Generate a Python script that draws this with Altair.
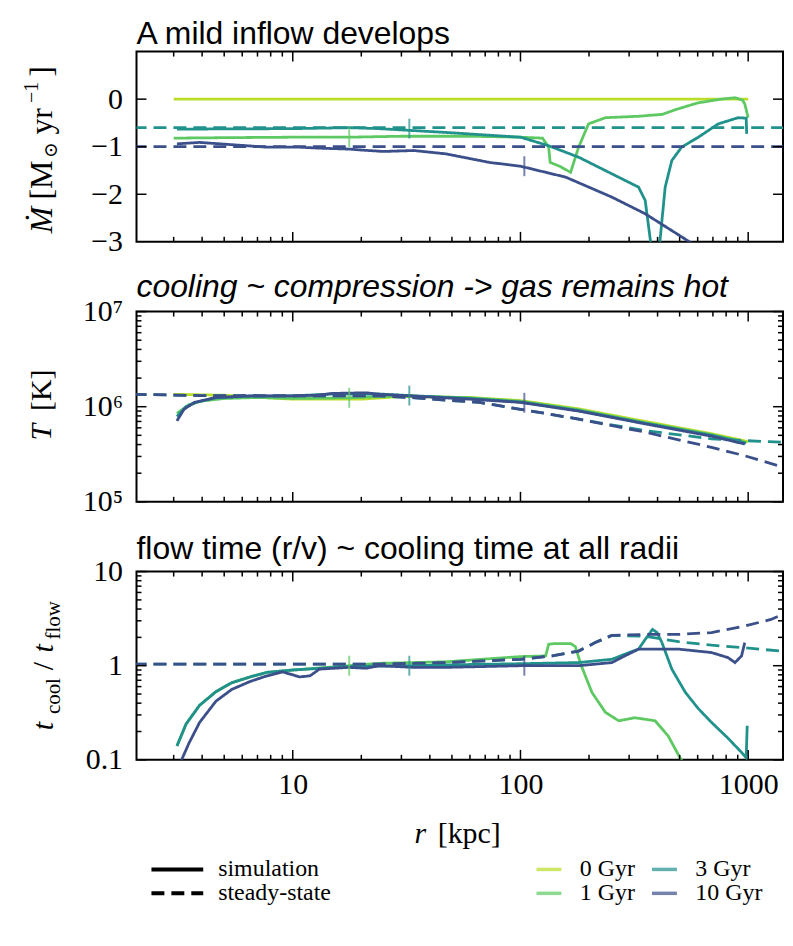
import altair as alt
import pandas as pd

SERIF = "Liberation Serif, DejaVu Serif, serif"
SANS = "Liberation Sans, Arial, sans-serif"

SERIES = ["0 Gyr", "1 Gyr", "3 Gyr", "10 Gyr"]
SERIES_COLORS = ["#bade28", "#5ec962", "#21918c", "#3b4f8a"]
KINDS = ["simulation", "steady-state"]

# ---------------- panel 1: Mdot ----------------
MD_R_0 = [3, 1000]
MD_0 = [0.0, 0.0]
MD_R_1 = [3, 5, 10, 17.7, 30, 60, 100, 125, 133, 135, 150, 166, 180, 199, 236, 330, 420, 480, 600, 760, 875, 944, 966, 1000]
MD_1 = [-0.82, -0.81, -0.80, -0.80, -0.78, -0.78, -0.80, -0.82, -1.01, -1.33, -1.42, -1.54, -1.01, -0.52, -0.39, -0.36, -0.32, -0.22, -0.08, 0.0, 0.03, -0.02, -0.10, -0.39]
MD_R_3 = [3.1, 10, 17.7, 24, 47, 100, 133, 180, 252, 330, 353, 372, 392, 410, 432, 462, 510, 604, 739, 904, 980, 985]
MD_3 = [-0.63, -0.62, -0.60, -0.62, -0.70, -0.80, -0.98, -1.22, -1.57, -1.85, -2.13, -2.97, -6.0, -2.97, -1.85, -1.29, -1.01, -0.80, -0.52, -0.39, -0.40, -0.73]
MD_R_10 = [3.1, 3.9, 5.5, 7.7, 10.7, 13, 17.7, 20, 25, 34, 47, 73, 100, 158, 252, 353, 528, 1000]
MD_10 = [-0.94, -0.91, -0.96, -1.01, -1.01, -1.03, -1.05, -1.07, -1.10, -1.08, -1.15, -1.33, -1.41, -1.64, -2.06, -2.41, -2.94, -3.8]
MD_SS_R = [2, 1500]
MD_SS_3 = [-0.6, -0.6]
MD_SS_10 = [-1.0, -1.0]

# ---------------- panel 2: T ----------------
T_R_0 = [3, 5, 10, 20, 30, 60, 100, 180, 353, 690, 1000]
T_0 = [1.35e6, 1.32e6, 1.20e6, 1.20e6, 1.28e6, 1.25e6, 1.16e6, 9.5e5, 7.0e5, 5.2e5, 4.3e5]
T_R_1 = [3.1, 3.5, 4.0, 5, 7, 10, 17.7, 30, 60, 100, 180, 353, 690, 980]
T_1 = [8.5e5, 1.05e6, 1.15e6, 1.22e6, 1.25e6, 1.22e6, 1.24e6, 1.30e6, 1.24e6, 1.14e6, 9.3e5, 6.8e5, 5.1e5, 4.2e5]
T_R_3 = [3.1, 3.4, 3.8, 4.6, 6.5, 10, 15, 24, 32.5, 60, 100, 180, 353, 690, 980]
T_3 = [7.9e5, 1.0e6, 1.12e6, 1.24e6, 1.29e6, 1.30e6, 1.36e6, 1.36e6, 1.31e6, 1.22e6, 1.12e6, 9.1e5, 6.7e5, 5.0e5, 4.15e5]
T_R_10 = [3.1, 3.33, 3.7, 4.6, 6.5, 10, 12.7, 15, 21, 24, 32.5, 60, 100, 180, 353, 690, 966]
T_10 = [7.1e5, 9.4e5, 1.11e6, 1.25e6, 1.30e6, 1.30e6, 1.32e6, 1.38e6, 1.40e6, 1.35e6, 1.30e6, 1.20e6, 1.11e6, 9.0e5, 6.6e5, 4.9e5, 4.05e5]
T_SS_R_3 = [2, 3.9, 10, 24, 32.5, 66, 100, 180, 353, 690, 966, 1530]
T_SS_3 = [1.35e6, 1.31e6, 1.30e6, 1.30e6, 1.25e6, 1.11e6, 9.4e5, 7.4e5, 5.6e5, 4.6e5, 4.4e5, 4.2e5]
T_SS_R_10 = [2, 3.9, 10, 24, 32.5, 66, 100, 180, 353, 690, 966, 1530]
T_SS_10 = [1.35e6, 1.31e6, 1.30e6, 1.30e6, 1.25e6, 1.11e6, 9.4e5, 7.4e5, 5.4e5, 3.74e5, 3.05e5, 2.2e5]

# ---------------- panel 3: t_cool / t_flow ----------------
Q_R_1 = [3.1, 3.4, 3.9, 4.6, 5.4, 6.5, 7.7, 10, 17.7, 24, 47, 100, 129, 133, 142, 166, 174, 185, 206, 236, 270, 318, 390, 445, 500, 560]
Q_1 = [0.14, 0.24, 0.38, 0.53, 0.66, 0.76, 0.85, 0.90, 1.0, 1.06, 1.10, 1.25, 1.27, 1.69, 1.72, 1.72, 1.60, 1.0, 0.52, 0.32, 0.26, 0.28, 0.26, 0.18, 0.107, 0.07]
Q_R_3 = [3.1, 3.4, 3.9, 4.6, 5.4, 6.5, 7.7, 10, 17.7, 32.5, 60, 100, 180, 252, 300, 330, 353, 380, 398, 418, 462, 530, 604, 690, 815, 935, 980, 990]
Q_3 = [0.14, 0.24, 0.38, 0.53, 0.66, 0.76, 0.85, 0.90, 0.98, 1.0, 1.03, 1.05, 1.08, 1.17, 1.38, 1.50, 1.90, 2.43, 2.25, 1.76, 0.92, 0.52, 0.35, 0.25, 0.17, 0.12, 0.105, 0.23]
Q_R_10 = [3.1, 3.25, 3.5, 3.9, 4.6, 5.4, 6.5, 7.7, 9.0, 10, 10.7, 11.9, 13.1, 17.7, 21, 24, 34, 47, 100, 180, 252, 287, 330, 495, 690, 815, 875, 935, 966]
Q_10 = [0.06, 0.10, 0.15, 0.25, 0.42, 0.56, 0.68, 0.78, 0.86, 0.80, 0.76, 0.78, 0.92, 0.96, 0.94, 1.0, 0.96, 0.96, 1.0, 1.0, 1.08, 1.27, 1.50, 1.50, 1.38, 1.22, 1.08, 1.27, 1.76]
Q_SS_R_3 = [2, 24, 47, 100, 138, 180, 213, 252, 353, 495, 690, 966, 1530]
Q_SS_3 = [1.04, 1.04, 1.08, 1.17, 1.27, 1.43, 1.76, 2.10, 2.05, 1.80, 1.65, 1.55, 1.40]
Q_SS_R_10 = [2, 24, 47, 100, 138, 180, 213, 252, 353, 495, 690, 966, 1260, 1530]
Q_SS_10 = [1.04, 1.04, 1.08, 1.17, 1.27, 1.43, 1.76, 2.10, 2.15, 2.15, 2.25, 2.64, 3.10, 3.80]

# markers on the simulation curves
MARK_SERIES = ["1 Gyr", "3 Gyr", "10 Gyr"]
MARK_R = [17.7, 32.5, 104]
MARK_MD = [-0.80, -0.62, -1.41]
MARK_T = [1.24e6, 1.31e6, 1.10e6]
MARK_Q = [1.0, 1.0, 1.0]

# axis ticks
X_MAJOR = [10, 100, 1000]
X_MINOR = [3, 4, 5, 6, 7, 8, 9, 20, 30, 40, 50, 60, 70, 80, 90, 200, 300, 400, 500, 600, 700, 800, 900]
MD_TICKS = [0, -1, -2, -3]
T_MAJOR = [1e5, 1e6, 1e7]
T_MINOR = [2e5, 3e5, 4e5, 5e5, 6e5, 7e5, 8e5, 9e5, 2e6, 3e6, 4e6, 5e6, 6e6, 7e6, 8e6, 9e6]
Q_MAJOR = [0.1, 1, 10]
Q_MINOR = [0.2, 0.3, 0.4, 0.5, 0.6, 0.7, 0.8, 0.9, 2, 3, 4, 5, 6, 7, 8, 9]

TITLES = ["A mild inflow develops",
          "cooling ~ compression -> gas remains hot",
          "flow time (r/v) ~ cooling time at all radii"]

W = 649
H = [191, 191, 189]


def frame(r, v, series, kind):
    return pd.DataFrame({"r": r, "v": v, "series": series, "kind": kind})


COLOR_SCALE = alt.Scale(domain=SERIES, range=SERIES_COLORS)
DASH_SCALE = alt.Scale(domain=KINDS, range=[[1, 0], [13, 7]])
X_SCALE = alt.Scale(type="log", domain=[2.06, 1422], nice=False)

COLOR_LEGEND = alt.Legend(title=None, orient="none", legendX=402, legendY=809, columns=2,
                          columnPadding=9, symbolType="M-2,0H2", symbolSize=156,
                          symbolStrokeWidth=3.5, labelFont=SERIF, labelFontSize=24,
                          labelColor="black", labelOffset=19, rowPadding=-2)
DASH_LEGEND = alt.Legend(title=None, orient="none", legendX=29, legendY=809,
                         symbolType="M-4,0H4", symbolSize=169, symbolStrokeWidth=4,
                         symbolStrokeColor="black", labelFont=SERIF, labelFontSize=24,
                         labelColor="black", labelOffset=29, rowPadding=-2)


def yaxis(values, expr=None):
    kw = dict(values=values, ticks=False, tickSize=0, domain=False, grid=False,
              labelFont=SERIF, labelFontSize=30, labelColor="black", labelPadding=14,
              labelFlush=False, labelOverlap=False, title=None)
    if expr:
        kw["labelExpr"] = expr
    return alt.Axis(**kw)


X_AXIS_BOTTOM = alt.Axis(values=X_MAJOR, format="d", ticks=False, tickSize=0, domain=False,
                         grid=False, labelFont=SERIF, labelFontSize=30, labelColor="black",
                         labelPadding=10, labelFlush=False, labelOverlap=False, title=None)


def text(t, x, y, size=30, style="normal", angle=270, font=SERIF, align="center",
         baseline="middle"):
    return alt.Chart(pd.DataFrame({"t": [t]})).mark_text(
        font=font, fontSize=size, fontStyle=style, angle=angle, align=align,
        baseline=baseline, color="black").encode(text="t:N", x=alt.value(x), y=alt.value(y))


def panel(idx, curves, marks, yscale, yax, ymajor, yminor, xax, labels, title_style, title_offset):
    h = H[idx]
    X = lambda: alt.X("r:Q", scale=X_SCALE, axis=xax)
    Y = lambda: alt.Y("v:Q", scale=yscale, axis=yax)
    layers = []
    df_all = pd.concat(curves, ignore_index=True)
    for s in SERIES:
        sub = df_all[df_all["series"] == s]
        if len(sub) == 0:
            continue
        layers.append(alt.Chart(sub).mark_line(clip=True, strokeWidth=2.8).encode(
            x=X(), y=Y(),
            color=alt.Color("series:N", scale=COLOR_SCALE, legend=COLOR_LEGEND),
            strokeDash=alt.StrokeDash("kind:N", scale=DASH_SCALE, legend=DASH_LEGEND),
        ))
    layers.append(alt.Chart(marks).mark_tick(orient="vertical", size=20, thickness=2).encode(
        x=X(), y=Y(), color=alt.Color("series:N", scale=COLOR_SCALE, legend=COLOR_LEGEND)))
    # frame ticks (inward)
    xmaj = pd.DataFrame({"r": X_MAJOR})
    xmin = pd.DataFrame({"r": X_MINOR})
    for d, ln in ((xmaj, 10), (xmin, 5)):
        base = alt.Chart(d).mark_rule(color="black", strokeWidth=1.5)
        layers.append(base.encode(x=X(), y=alt.value(0), y2=alt.value(ln)))
        layers.append(base.encode(x=X(), y=alt.value(h), y2=alt.value(h - ln)))
    for vals, ln in ((ymajor, 10), (yminor, 5)):
        if not vals:
            continue
        base = alt.Chart(pd.DataFrame({"v": vals})).mark_rule(color="black", strokeWidth=1.5)
        layers.append(base.encode(y=Y(), x=alt.value(0), x2=alt.value(ln)))
        layers.append(base.encode(y=Y(), x=alt.value(W), x2=alt.value(W - ln)))
    layers.extend(labels)
    layers.append(text(TITLES[idx], 0, -title_offset, size=32, style=title_style, angle=0,
                       font=SANS, align="left", baseline="alphabetic"))
    return alt.layer(*layers).properties(width=W, height=h)


# panel 1
c1 = [frame(MD_SS_R, MD_SS_3, "3 Gyr", "steady-state"),
      frame(MD_SS_R, MD_SS_10, "10 Gyr", "steady-state"),
      frame(MD_R_0, MD_0, "0 Gyr", "simulation"),
      frame(MD_R_1, MD_1, "1 Gyr", "simulation"),
      frame(MD_R_3, MD_3, "3 Gyr", "simulation"),
      frame(MD_R_10, MD_10, "10 Gyr", "simulation")]
m1 = pd.DataFrame({"r": MARK_R, "v": MARK_MD, "series": MARK_SERIES})
ox, oy = 136, 50
lab1 = [text("Ṁ", 41 - ox, 219 - oy, size=32, style="italic"),
        text("[M", 41 - ox, 179 - oy, size=32),
        text("⊙", 50 - ox, 149 - oy, size=19),
        text("yr", 41 - ox, 120 - oy, size=32),
        text("−1", 31 - ox, 91 - oy, size=20),
        text("]", 41 - ox, 70 - oy, size=32)]
p1 = panel(0, c1, m1, alt.Scale(domain=[-3, 1], nice=False, zero=False),
           yaxis(MD_TICKS), [0, -1, -2], [], None, lab1, "normal", 8)

# panel 2
c2 = [frame(T_SS_R_3, T_SS_3, "3 Gyr", "steady-state"),
      frame(T_SS_R_10, T_SS_10, "10 Gyr", "steady-state"),
      frame(T_R_0, T_0, "0 Gyr", "simulation"),
      frame(T_R_1, T_1, "1 Gyr", "simulation"),
      frame(T_R_3, T_3, "3 Gyr", "simulation"),
      frame(T_R_10, T_10, "10 Gyr", "simulation")]
m2 = pd.DataFrame({"r": MARK_R, "v": MARK_T, "series": MARK_SERIES})
ox, oy = 136, 311
lab2 = [text("T", 41 - ox, 432 - oy, style="italic"),
        text("[K]", 41 - ox, 390 - oy)]
p2 = panel(1, c2, m2, alt.Scale(type="log", domain=[1e5, 1e7], nice=False),
           yaxis(T_MAJOR, "datum.value > 5e6 ? '10⁷' : datum.value > 5e5 ? '10⁶' : '10⁵'"),
           T_MAJOR, T_MINOR, None, lab2, "italic", 15)

# panel 3
c3 = [frame(Q_SS_R_3, Q_SS_3, "3 Gyr", "steady-state"),
      frame(Q_SS_R_10, Q_SS_10, "10 Gyr", "steady-state"),
      frame(Q_R_1, Q_1, "1 Gyr", "simulation"),
      frame(Q_R_3, Q_3, "3 Gyr", "simulation"),
      frame(Q_R_10, Q_10, "10 Gyr", "simulation")]
m3 = pd.DataFrame({"r": MARK_R, "v": MARK_Q, "series": MARK_SERIES})
ox, oy = 136, 572
lab3 = [text("t", 43 - ox, 727 - oy, style="italic"),
        text("cool", 53 - ox, 697 - oy, size=21),
        text("/", 43 - ox, 667 - oy),
        text("t", 43 - ox, 649 - oy, style="italic"),
        text("flow", 53 - ox, 621 - oy, size=21),
        text("r", 421 - ox, 835 - oy, style="italic", angle=0),
        text("[kpc]", 470 - ox, 835 - oy, angle=0)]
p3 = panel(2, c3, m3, alt.Scale(type="log", domain=[0.1, 10], nice=False),
           yaxis(Q_MAJOR, "datum.value > 5 ? '10' : datum.value > 0.5 ? '1' : '0.1'"),
           Q_MAJOR, Q_MINOR, X_AXIS_BOTTOM, lab3, "normal", 13)

chart = alt.vconcat(p1, p2, p3, spacing=70, bounds="flush").resolve_scale(
    y="independent").properties(
    padding={"left": 13, "top": 7, "right": 0, "bottom": 5},
    background="white").configure_view(stroke="black", strokeWidth=2)

chart.save("out.html", embed_options={"renderer": "svg", "actions": False})
